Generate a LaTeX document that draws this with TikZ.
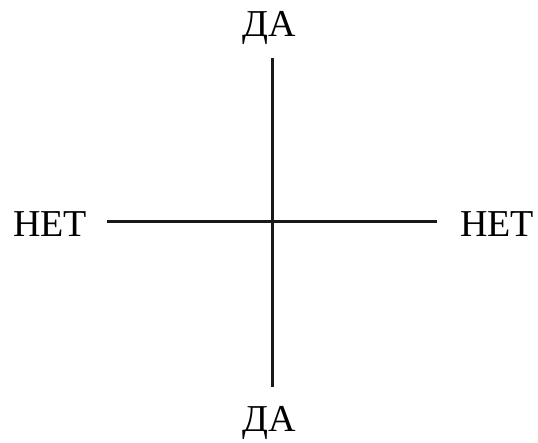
\documentclass[tikz,border=0pt]{standalone}
\usepackage{fontspec}
\setmainfont{Liberation Serif}
\usetikzlibrary{positioning}

\begin{document}
\begin{tikzpicture}[
    x=1pt,
    y=1pt,
    answer/.style={
        inner sep=0pt,
        anchor=base,
        font=\fontsize{38}{42}\selectfont
    },
    axis/.style={
        line width=3pt,
        black!90
    }
]

    \useasboundingbox (0,0) rectangle (538,443);

    % === Réponses ===
    \node[answer] (top) at (269,406) {ДА};
    \node[answer] (bottom) at (269,11) {ДА};
    \node[answer] (left) at (50,206) {НЕТ};
    \node[answer] (right) at (497,206) {НЕТ};

    % === Axes ===
    \coordinate (vtop) at (272,385);
    \coordinate (vbottom) at (272,56);
    \coordinate (hleft) at (107,221);
    \coordinate (hright) at (437,221);

    \draw[axis] (vtop) -- (vbottom);
    \draw[axis] (hleft) -- (hright);

\end{tikzpicture}
\end{document}
